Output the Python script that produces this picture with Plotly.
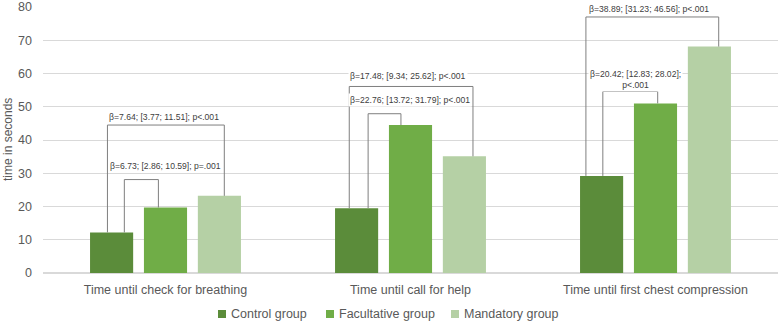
import plotly.graph_objects as go

categories = ["Time until check for breathing", "Time until call for help", "Time until first chest compression"]
control = [12.2, 19.5, 29.2]
facultative = [19.7, 44.5, 51.0]
mandatory = [23.2, 35.1, 68.1]
series_names = ["Control group", "Facultative group", "Mandatory group"]
colors = ["#5b8c3a", "#70ad47", "#b5d0a5"]

bracket_labels = [
    "β=6.73; [2.86; 10.59]; p=.001",
    "β=7.64; [3.77; 11.51]; p<.001",
    "β=22.76; [13.72; 31.79]; p<.001",
    "β=17.48; [9.34; 25.62]; p<.001",
    "β=20.42; [12.83; 28.02];<br>p<.001",
    "β=38.89; [31.23; 46.56]; p<.001",
]
bracket_tops = [28.1, 44.5, 47.9, 56.1, 54.6, 77.0]

W, H = 778, 321
ML, MR, MT, MB = 43, 0, 7, 48
PW, PH = W - ML - MR, H - MT - MB

fig = go.Figure()
x = [0, 1, 2]
for name, vals, c in zip(series_names, [control, facultative, mandatory], colors):
    fig.add_trace(go.Bar(x=x, y=vals, name=name, marker=dict(color=c, line=dict(width=0)),
                         showlegend=False))

xl = [-0.168, -0.237, 0.827, 0.750, 1.785, 1.716]
xr = [-0.029, 0.240, 0.961, 1.255, 2.009, 2.258]
yl = [control[0], control[0], control[1], control[1], control[2], control[2]]
yr = [facultative[0], mandatory[0], facultative[1], mandatory[1], facultative[2], mandatory[2]]
lx = [0.0, -0.005, 0.996, 0.988, 1.917, 1.972]
ly = [32.2, 46.9, 51.9, 59.1, 58.2, 79.5]

for i in range(6):
    fig.add_shape(type="path",
                  path=f"M {xl[i]},{yl[i]} L {xl[i]},{bracket_tops[i]} L {xr[i]},{bracket_tops[i]} L {xr[i]},{yr[i]}",
                  xref="x", yref="y", line=dict(color="#7f7f7f", width=1), layer="above")
    fig.add_annotation(x=lx[i], y=ly[i], text=bracket_labels[i], showarrow=False,
                       font=dict(family="Liberation Sans", size=8.6, color="#404040"),
                       bgcolor="white", xref="x", yref="y", borderpad=1)

# manual legend (pixel positions converted to paper coords)
def px_x(p):
    return (p - ML) / PW

def px_y(p):
    return (H - MB - p) / PH

leg_sq = [218, 326, 451]
for name, c, sx in zip(series_names, colors, leg_sq):
    fig.add_shape(type="rect", xref="paper", yref="paper",
                  x0=px_x(sx), x1=px_x(sx + 8), y0=px_y(318), y1=px_y(310),
                  fillcolor=c, line=dict(width=0))
    fig.add_annotation(x=px_x(sx + 11), y=px_y(314), xref="paper", yref="paper",
                       text=name, showarrow=False, xanchor="left", yanchor="middle",
                       font=dict(size=12.5, color="#595959"))

fig.add_annotation(x=px_x(8), y=px_y(140), xref="paper", yref="paper", text="time in seconds",
                   textangle=-90, showarrow=False, xanchor="center", yanchor="middle",
                   font=dict(size=12, color="#595959"))

fig.update_layout(
    width=W, height=H,
    margin=dict(l=ML, r=MR, t=MT, b=MB, autoexpand=False),
    plot_bgcolor="white", paper_bgcolor="white",
    barmode="group", bargap=0.34, bargroupgap=0.2,
    font=dict(family="Liberation Sans", size=12, color="#595959"),
    showlegend=False,
)
fig.update_xaxes(range=[-0.5, 2.5], tickvals=x, ticktext=categories, showgrid=False,
                 showline=False, zeroline=False, ticks="", automargin=False,
                 ticklabelstandoff=7,
                 tickfont=dict(size=12.5, color="#595959"), ticklabeloverflow="allow")
fig.update_yaxes(range=[0, 80], dtick=10, showgrid=True, gridcolor="#d9d9d9", gridwidth=1,
                 zeroline=True, zerolinecolor="#d9d9d9", showline=False, automargin=False,
                 ticks="", ticklabelstandoff=10, ticklabeloverflow="allow",
                 tickfont=dict(size=12.5, color="#595959"))

fig.write_html("out.html", config={"displayModeBar": False},
               post_script="document.body.style.margin='0';document.body.style.padding='0';document.body.style.overflow='hidden';")
